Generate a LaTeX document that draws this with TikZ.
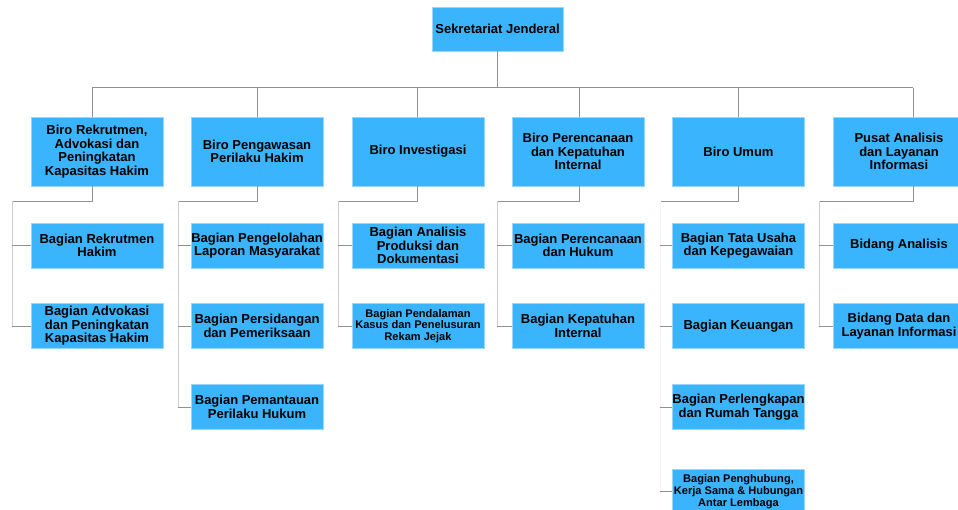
\documentclass[tikz,border=0pt]{standalone}
\usepackage{fontspec}
\setmainfont{Liberation Sans}
\usepackage{xcolor}
\usepackage{tikz}

\definecolor{boxblue}{RGB}{58,181,253}
\definecolor{boxrim}{RGB}{150,214,255}
\definecolor{linegray}{RGB}{145,145,145}
\definecolor{railgray}{RGB}{205,205,205}
\definecolor{railfaint}{RGB}{244,244,244}

\tikzset{
	unit/.style={fill=boxblue, draw=boxrim, line width=0.6pt, align=center, inner sep=0pt,
		font=\bfseries\fontsize{9.75}{10.2}\selectfont},
	biro/.style={unit, minimum width=99pt, minimum height=51.75pt},
	bagian/.style={unit, minimum width=99pt, minimum height=33.75pt},
	small/.style={font=\bfseries\fontsize{8.3}{8.8}\selectfont},
	link/.style={draw=linegray, line width=0.75pt},
	rail/.style={line width=0.75pt}
}

\begin{document}
\begin{tikzpicture}[x=0.75pt, y=-0.75pt]
	\useasboundingbox (0,0) rectangle (958,510);
	\clip (0,0) rectangle (958,510);
	
	% Top unit
	\node[unit, minimum width=98.25pt, minimum height=33pt] (sekjen) at (497.5,29) {Sekretariat Jenderal};
	
	% Biro level
	\node[biro] (biro1) at (97,151.5) {Biro Rekrutmen,\\Advokasi dan\\Peningkatan\\Kapasitas Hakim};
	\node[biro] (biro2) at (257,151.5) {Biro Pengawasan\\Perilaku Hakim};
	\node[biro] (biro3) at (418,151.5) {Biro Investigasi};
	\node[biro] (biro4) at (578,151.5) {Biro Perencanaan\\dan Kepatuhan\\Internal};
	\node[biro] (biro5) at (738.5,151.5) {Biro Umum};
	\node[biro] (biro6) at (899,151.5) {Pusat Analisis\\dan Layanan\\Informasi};
	
	% Bagian level
	\node[bagian] (bag11) at (97,245.5) {Bagian Rekrutmen\\Hakim};
	\node[bagian] (bag12) at (97,326) {Bagian Advokasi\\dan Peningkatan\\Kapasitas Hakim};
	\node[bagian] (bag21) at (257,245.5) {Bagian Pengelolahan\\Laporan Masyarakat};
	\node[bagian] (bag22) at (257,326) {Bagian Persidangan\\dan Pemeriksaan};
	\node[bagian] (bag23) at (257,407) {Bagian Pemantauan\\Perilaku Hukum};
	\node[bagian] (bag31) at (418,245.5) {Bagian Analisis\\Produksi dan\\Dokumentasi};
	\node[bagian, small] (bag32) at (418,326) {Bagian Pendalaman\\Kasus dan Penelusuran\\Rekam Jejak};
	\node[bagian] (bag41) at (578,245.5) {Bagian Perencanaan\\dan Hukum};
	\node[bagian] (bag42) at (578,326) {Bagian Kepatuhan\\Internal};
	\node[bagian] (bag51) at (738.5,245.5) {Bagian Tata Usaha\\dan Kepegawaian};
	\node[bagian] (bag52) at (738.5,326) {Bagian Keuangan};
	\node[bagian] (bag53) at (738.5,407) {Bagian Perlengkapan\\dan Rumah Tangga};
	\node[bagian, small] (bag54) at (738.5,491.5) {Bagian Penghubung,\\Kerja Sama \& Hubungan\\Antar Lembaga};
	\node[bagian] (bag61) at (899,245.5) {Bidang Analisis};
	\node[bagian] (bag62) at (899,326) {Bidang Data dan\\Layanan Informasi};
	
	% Bus and drops
	\coordinate (d1) at (92,88);  \coordinate (d2) at (257,88);  \coordinate (d3) at (417,88);
	\coordinate (d4) at (579,88); \coordinate (d5) at (738,88);  \coordinate (d6) at (913,88);
	\coordinate (r1) at (12,201);  \coordinate (r2) at (178,201); \coordinate (r3) at (338,201);
	\coordinate (r4) at (497,201); \coordinate (r5) at (660,201); \coordinate (r6) at (819,201);
	
	\draw[link] (sekjen.south) -- (sekjen.south |- d1);
	\draw[link] (d1) -- (d6);
	\foreach \i in {1,...,6} {
		\draw[link] (d\i) -- (d\i |- biro\i.north);
		\draw[link] (d\i |- biro\i.south) |- (r\i);
	}
	
	% Rails and stubs
	\foreach \c/\n/\col in {1/2/railgray, 2/3/railgray, 3/2/railgray, 4/2/railgray, 5/4/railfaint, 6/2/railgray} {
		\draw[rail, draw=\col] (r\c) -- (r\c |- bag\c\n.west);
		\foreach \k in {1,...,\n}
			\draw[link] (r\c |- bag\c\k.west) -- (bag\c\k.west);
	}
\end{tikzpicture}
\end{document}
